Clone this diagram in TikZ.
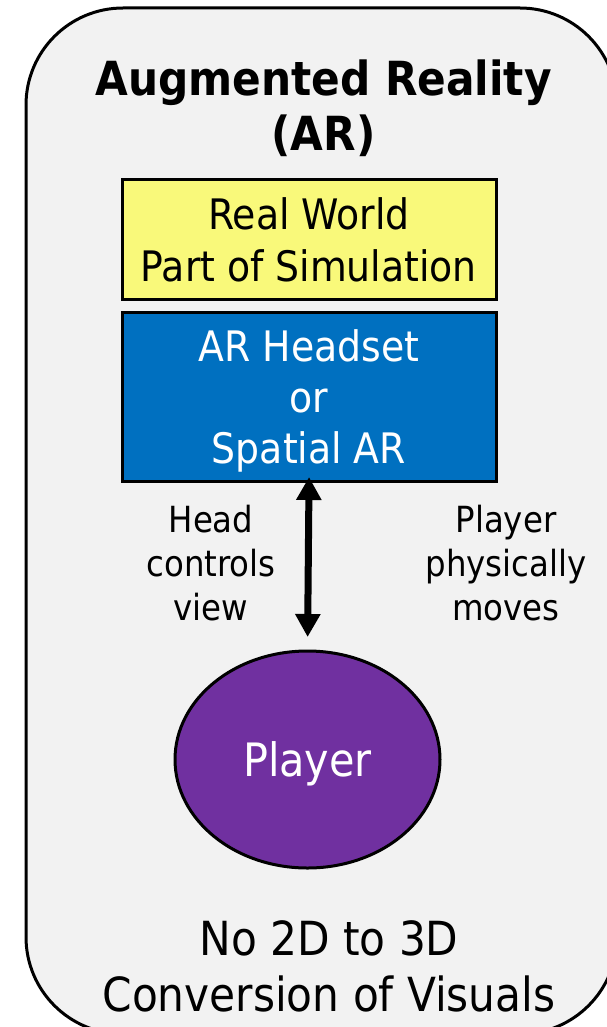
\documentclass[tikz,border=0pt]{standalone}
\usepackage{fontspec}
\setmainfont{DejaVu Sans Condensed}
\usetikzlibrary{arrows.meta,shapes.geometric}

\definecolor{panelgray}{HTML}{F2F2F2}
\definecolor{worldyellow}{HTML}{F9F97A}
\definecolor{devblue}{HTML}{0070C0}
\definecolor{playerpurple}{HTML}{7030A0}

\tikzset{
  panel/.style={draw=black, line width=3pt, fill=panelgray, rounded corners=97pt},
  blockbox/.style={draw=black, line width=3pt, inner sep=0pt, align=center,
    minimum width=374pt, text depth=0pt},
  playernode/.style={ellipse, draw=black, line width=3pt, fill=playerpurple,
    inner sep=0pt, minimum width=265pt, minimum height=217pt,
    text=white, text depth=0pt, font=\fontsize{46}{55}\selectfont},
  caption/.style={align=center, inner sep=0pt, text depth=0pt},
  link/.style={line width=7pt, {Triangle[width=24pt,length=23pt]}-{Triangle[width=24pt,length=23pt]}}
}

\begin{document}
\begin{tikzpicture}[x=1pt,y=-1pt]
  \useasboundingbox (0,0) rectangle (607,1027);
  \fill[white] (0,0) rectangle (607,1027);
  \begin{scope}
    \clip (0,0) rectangle (607,1027);
    \draw[panel] (26,8) rectangle (617,1034);
  \end{scope}

  % heading
  \node[caption, font=\bfseries\fontsize{47}{55}\selectfont] (title) at (323.5,105)
    {Augmented Reality\\(AR)};

  % stacked blocks
  \node[blockbox, fill=worldyellow, minimum height=119pt,
        font=\fontsize{42}{52}\selectfont] (world) at (309,239.5)
    {Real World\\Part of Simulation};
  \node[blockbox, fill=devblue, text=white, minimum height=169pt,
        font=\fontsize{42}{51}\selectfont] (headset) at (309,396.5)
    {AR Headset\\or\\Spatial AR};

  % player
  \node[playernode] (player) at (307.5,759.5) {Player};

  % interaction
  \draw[link, shorten <=-5.5pt, shorten >=12.5pt] (headset.south) -- (player.north);

  \node[caption, font=\fontsize{36}{44}\selectfont] (headlbl) at (211,563)
    {Head\\controls\\view};
  \node[caption, font=\fontsize{36}{44}\selectfont] (movelbl) at (506,563)
    {Player\\physically\\moves};

  % footer
  \node[caption, font=\fontsize{47}{56}\selectfont] (footer) at (329,966)
    {No 2D to 3D\\Conversion of Visuals};
\end{tikzpicture}
\end{document}
